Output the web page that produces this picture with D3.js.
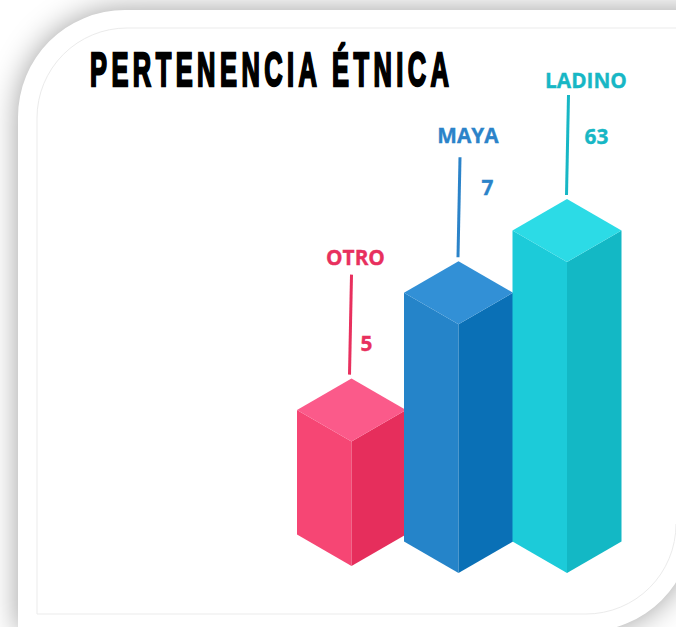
<!DOCTYPE html>
<html>
<head>
<meta charset="utf-8">
<style>
html,body{margin:0;padding:0;background:#fff;overflow:hidden}
svg{display:block}
</style>
<script src="https://cdn.jsdelivr.net/npm/d3@7/dist/d3.min.js"></script>
</head>
<body>
<script>
const titleText = "PERTENENCIA ÉTNICA";
const categories = ["OTRO", "MAYA", "LADINO"];
const seriesValues = [5, 7, 63];
const barLevels = [2, 4, 5];
const topColors = ["#fb5a8a", "#3290d6", "#2cdbe6"];
const leftColors = ["#f64674", "#2584c9", "#1ccbd9"];
const rightColors = ["#e62e5c", "#0a70b6", "#13b8c5"];
const textColors = ["#e8305e", "#2b83c9", "#17b7c5"];

const W = 676, H = 627;
const svg = d3.select("body").append("svg").attr("width", W).attr("height", H);

// Card with only the top-left and bottom-right corners rounded
function leafCard(x0, y0, x1, y1, r) {
  const p = d3.path();
  p.moveTo(x0 + r, y0);
  p.lineTo(x1 + 60, y0);
  p.lineTo(x1 + 60, y1 - r);
  p.lineTo(x1, y1 - r);
  p.arcTo(x1, y1, x1 - r, y1, r);
  p.lineTo(x0, y1);
  p.lineTo(x0, y0 + r);
  p.arcTo(x0, y0, x0 + r, y0, r);
  p.closePath();
  return p.toString();
}
function innerCard(x0, y0, x1, y1, r) {
  const p = d3.path();
  p.moveTo(x1 + 20, y0);
  p.lineTo(x0 + r, y0);
  p.arcTo(x0, y0, x0, y0 + r, r);
  p.lineTo(x0, y1);
  p.lineTo(x1 - r, y1);
  p.arcTo(x1, y1, x1, y1 - r, r);
  return p.toString();
}

const defs = svg.append("defs");
const blur = defs.append("filter").attr("id", "cardShadow")
  .attr("filterUnits", "userSpaceOnUse")
  .attr("x", -80).attr("y", -80).attr("width", 900).attr("height", 800);
blur.append("feGaussianBlur").attr("stdDeviation", 15);

const cardPath = leafCard(18, 10, 693, 631.5, 107);
const shadowPath = (() => {
  const p = d3.path();
  p.moveTo(125, 10); p.lineTo(800, 10); p.lineTo(800, 524.5); p.lineTo(693, 524.5);
  p.arcTo(693, 631.5, 586, 631.5, 107);
  p.lineTo(18, 631.5);
  p.lineTo(18, 800); p.lineTo(18, 117);
  p.arcTo(18, 10, 125, 10, 107);
  p.closePath();
  return p.toString();
})();
svg.append("path").attr("d", shadowPath)
  .attr("fill", "#000").attr("fill-opacity", 0.38).attr("filter", "url(#cardShadow)");
svg.append("path").attr("d", cardPath).attr("fill", "#fff");
svg.append("rect").attr("x", 18).attr("y", 500).attr("width", 560).attr("height", 127).attr("fill", "#fff");
svg.append("path").attr("d", innerCard(37, 28, 676, 614, 90))
  .attr("fill", "none").attr("stroke", "#ebebeb").attr("stroke-width", 1);

const titleScaleX = 0.52;
svg.append("text")
  .attr("transform", `translate(90,86) scale(${titleScaleX},1)`)
  .attr("font-family", "'Liberation Sans',sans-serif")
  .attr("font-weight", 700).attr("font-size", 49)
  .attr("stroke", "#000").attr("stroke-width", 2.4)
  .attr("textLength", 359 / titleScaleX).attr("lengthAdjust", "spacing")
  .attr("fill", "#000").text(titleText);

// Scales
const x = d3.scaleOrdinal().domain(categories).range([351.5, 458.5, 567]);
const baseY = d3.scaleOrdinal().domain(categories).range([566, 573, 573]);
const h = d3.scaleLinear().domain([0, 5]).range([0, 311]);
const leaderX = d3.scaleOrdinal().domain(categories).range([349.5, 458, 566.5]);
const labelX = d3.scaleOrdinal().domain(categories).range([355.5, 468, 586]);
const labelY = d3.scaleOrdinal().domain(categories).range([265, 143, 88]);
const valueX = d3.scaleOrdinal().domain(categories).range([366.5, 487.5, 596.5]);
const valueY = d3.scaleOrdinal().domain(categories).range([351, 195, 144]);

const halfW = 54.5, slope = 31.5;
const rows = categories.map((c, i) => ({
  c, value: seriesValues[i], level: barLevels[i],
  top: topColors[i], left: leftColors[i], right: rightColors[i], text: textColors[i]
}));
const poly = d3.line();

const bars = svg.selectAll("g.bar").data(rows).join("g").attr("class", "bar");

bars.append("path").attr("fill", d => d.left).attr("d", d => {
  const cx = x(d.c), b = baseY(d.c), t = b - h(d.level);
  return poly([[cx - halfW, t - slope], [cx, t], [cx, b], [cx - halfW, b - slope]]) + "Z";
});
bars.append("path").attr("fill", d => d.right).attr("d", d => {
  const cx = x(d.c), b = baseY(d.c), t = b - h(d.level);
  return poly([[cx, t], [cx + halfW, t - slope], [cx + halfW, b - slope], [cx, b]]) + "Z";
});
bars.append("path").attr("fill", d => d.top).attr("d", d => {
  const cx = x(d.c), t = baseY(d.c) - h(d.level);
  return poly([[cx, t - 2 * slope], [cx + halfW, t - slope], [cx, t], [cx - halfW, t - slope]]) + "Z";
});

// Leader lines
bars.append("line")
  .attr("x1", d => leaderX(d.c))
  .attr("y1", d => baseY(d.c) - h(d.level) - 2 * slope - 4)
  .attr("x2", d => leaderX(d.c) + 2)
  .attr("y2", d => baseY(d.c) - h(d.level) - 2 * slope - 104)
  .attr("stroke", d => d.text).attr("stroke-width", 3);

const textStyle = sel => sel
  .attr("font-family", "'Open Sans',sans-serif").attr("font-weight", 700)
  .attr("font-size", 20.8).attr("text-anchor", "middle").attr("fill", d => d.text)
  .attr("stroke", d => d.text).attr("stroke-width", 0.35);

bars.append("text").call(textStyle)
  .attr("x", d => labelX(d.c)).attr("y", d => labelY(d.c)).text(d => d.c);
bars.append("text").call(textStyle)
  .attr("x", d => valueX(d.c)).attr("y", d => valueY(d.c)).text(d => d.value);
</script>
</body>
</html>
